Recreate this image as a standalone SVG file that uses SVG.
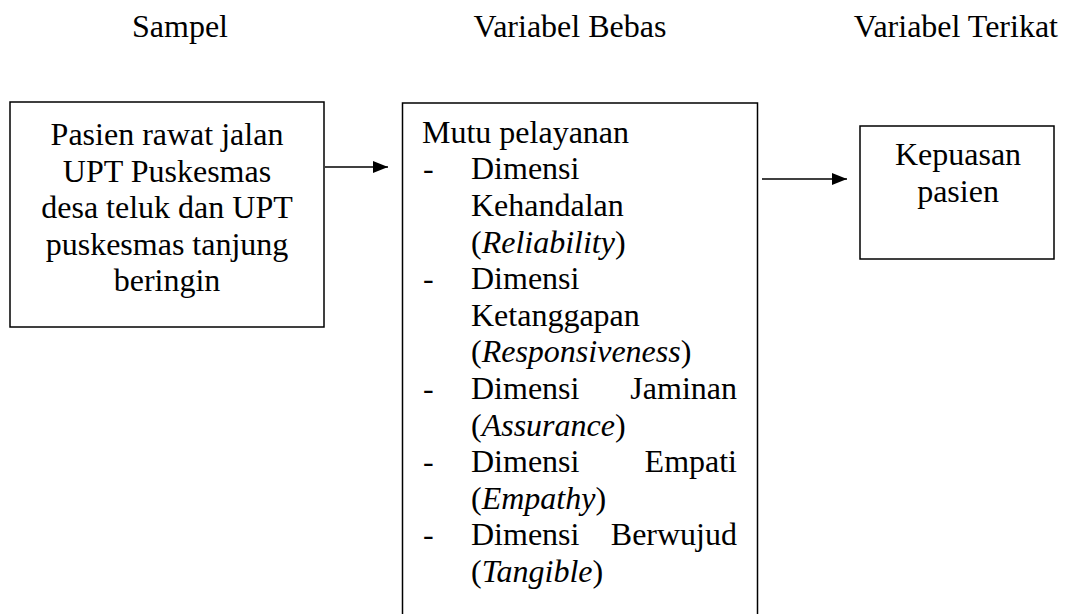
<svg xmlns="http://www.w3.org/2000/svg" width="1067" height="614" viewBox="0 0 1067 614">
<defs>
<marker id="ah" markerWidth="15" markerHeight="12" refX="15" refY="6" orient="auto" markerUnits="userSpaceOnUse">
<path d="M0,0 L15,6 L0,12 Z" fill="#000"/>
</marker>
</defs>
<rect width="1067" height="614" fill="#fff"/>
<g id="headings">
<text x="180" y="37" font-family="Times New Roman, serif" font-size="32" text-anchor="middle">Sampel</text>
<text x="570" y="37" font-family="Times New Roman, serif" font-size="32" text-anchor="middle">Variabel Bebas</text>
<text x="1058" y="37" font-family="Times New Roman, serif" font-size="32" text-anchor="end">Variabel Terikat</text>
</g>
<g id="sampel">
<rect x="10" y="102" width="314" height="225" fill="#fff" stroke="#000" stroke-width="1.5"/>
<text x="167" y="145" font-family="Times New Roman, serif" font-size="32" text-anchor="middle">Pasien rawat jalan</text>
<text x="167" y="181.6" font-family="Times New Roman, serif" font-size="32" text-anchor="middle">UPT Puskesmas</text>
<text x="167" y="218.2" font-family="Times New Roman, serif" font-size="32" text-anchor="middle">desa teluk dan UPT</text>
<text x="167" y="254.8" font-family="Times New Roman, serif" font-size="32" text-anchor="middle">puskesmas tanjung</text>
<text x="167" y="291.4" font-family="Times New Roman, serif" font-size="32" text-anchor="middle">beringin</text>
</g>
<g id="mutu">
<rect x="402.5" y="103" width="355" height="530" fill="#fff" stroke="#000" stroke-width="1.5"/>
<text x="422" y="142.7" font-family="Times New Roman, serif" font-size="32">Mutu pelayanan</text>
<text x="423" y="179.3" font-family="Times New Roman, serif" font-size="32">-</text>
<text x="471" y="179.3" font-family="Times New Roman, serif" font-size="32">Dimensi</text>
<text x="471" y="215.9" font-family="Times New Roman, serif" font-size="32">Kehandalan</text>
<text x="471" y="252.5" font-family="Times New Roman, serif" font-size="32">(<tspan font-style="italic">Reliability</tspan>)</text>
<text x="423" y="289.1" font-family="Times New Roman, serif" font-size="32">-</text>
<text x="471" y="289.1" font-family="Times New Roman, serif" font-size="32">Dimensi</text>
<text x="471" y="325.7" font-family="Times New Roman, serif" font-size="32">Ketanggapan</text>
<text x="471" y="362.3" font-family="Times New Roman, serif" font-size="32">(<tspan font-style="italic">Responsiveness</tspan>)</text>
<text x="423" y="398.9" font-family="Times New Roman, serif" font-size="32">-</text>
<text x="471" y="398.9" font-family="Times New Roman, serif" font-size="32">Dimensi</text>
<text x="737" y="398.9" font-family="Times New Roman, serif" font-size="32" text-anchor="end">Jaminan</text>
<text x="471" y="435.5" font-family="Times New Roman, serif" font-size="32">(<tspan font-style="italic">Assurance</tspan>)</text>
<text x="423" y="472.1" font-family="Times New Roman, serif" font-size="32">-</text>
<text x="471" y="472.1" font-family="Times New Roman, serif" font-size="32">Dimensi</text>
<text x="737" y="472.1" font-family="Times New Roman, serif" font-size="32" text-anchor="end">Empati</text>
<text x="471" y="508.7" font-family="Times New Roman, serif" font-size="32">(<tspan font-style="italic">Empathy</tspan>)</text>
<text x="423" y="545.3" font-family="Times New Roman, serif" font-size="32">-</text>
<text x="471" y="545.3" font-family="Times New Roman, serif" font-size="32">Dimensi</text>
<text x="737" y="545.3" font-family="Times New Roman, serif" font-size="32" text-anchor="end">Berwujud</text>
<text x="471" y="581.9" font-family="Times New Roman, serif" font-size="32">(<tspan font-style="italic">Tangible</tspan>)</text>
</g>
<g id="kepuasan">
<rect x="860" y="126" width="194" height="133" fill="#fff" stroke="#000" stroke-width="1.5"/>
<text x="958" y="165" font-family="Times New Roman, serif" font-size="32" text-anchor="middle">Kepuasan</text>
<text x="958" y="201.6" font-family="Times New Roman, serif" font-size="32" text-anchor="middle">pasien</text>
</g>
<g id="connectors" stroke="#000" stroke-width="1.5" fill="none">
<line x1="325" y1="167" x2="388" y2="167" marker-end="url(#ah)"/>
<line x1="762" y1="179" x2="847" y2="179" marker-end="url(#ah)"/>
</g>
</svg>
